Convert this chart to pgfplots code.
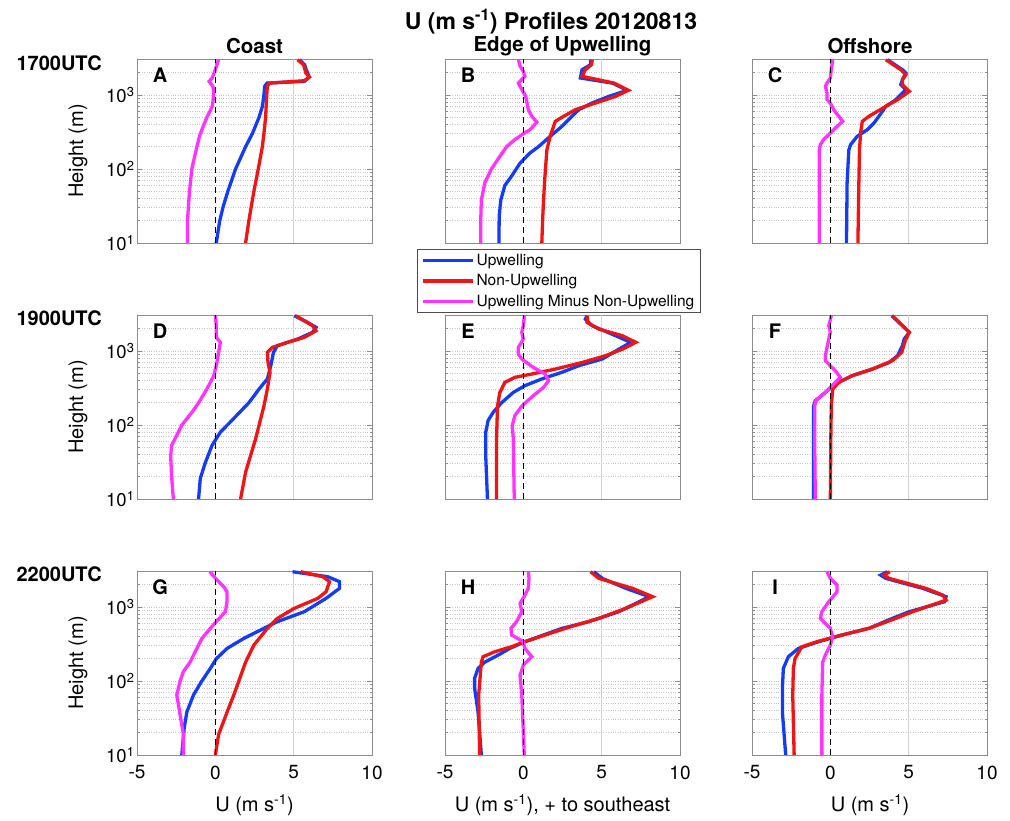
\documentclass[border=0pt]{standalone}
\usepackage{pgfplots}
\pgfplotsset{compat=1.18}
\usepackage{fontspec}
\setmainfont{TeX Gyre Heros}

\definecolor{upb}{RGB}{20,60,245}
\definecolor{nur}{RGB}{240,20,20}
\definecolor{dif}{RGB}{255,50,255}

\newcommand{\tfont}{\fontsize{20}{24}\selectfont}
\newcommand{\bfont}{\bfseries\fontsize{20}{24}\selectfont}

\pgfplotsset{
  prof/.style={
    scale only axis, width=235pt, height=184pt,
    xmin=-5, xmax=10, ymin=10, ymax=3070,
    xtick={-5,0,5,10}, xticklabels={},
    ytick={10,100,1000}, yticklabels={},
    minor ytick={20,30,40,50,60,70,80,90,200,300,400,500,600,700,800,900,2000,3000},
    ymajorgrids, yminorgrids,
    grid style={black!22, dotted, line width=0.6pt},
    axis line style={black!45, line width=0.8pt},
    tick style={black!45, line width=0.8pt},
    major tick length=5pt, minor tick length=2.5pt,
    tick align=inside, tick pos=both,
    xticklabel style={font=\fontsize{19}{22}\selectfont, yshift=-7pt},
    yticklabel style={font=\fontsize{18.5}{22}\selectfont, xshift=1pt},
  },
  up/.style={upb, line width=3.3pt},
  nu/.style={nur, line width=3.3pt},
  df/.style={dif, line width=3.3pt},
  zl/.style={black, line width=1.5pt, dash pattern=on 6pt off 4pt, forget plot},
  g5/.style={black!18, line width=0.6pt, forget plot},
  lefty/.style={yticklabels={10\textsuperscript{1},10\textsuperscript{2},10\textsuperscript{3}}},
  botx/.style={xticklabels={-5,0,5,10}},
}

\begin{document}
\begin{tikzpicture}
\useasboundingbox (0pt,0pt) rectangle (1010pt,820pt);

% ---------- row 1: 1700UTC ----------
\begin{axis}[ymode=log, prof, lefty, at={(137pt,577pt)}]
\addplot[g5] coordinates {(5,10) (5,3070)};
\addplot[up] coordinates {(0.06,10)(0.28,20)(0.5,31)(0.8,50)(1.29,100)(1.93,200)(2.36,300)(2.79,500)(3.0,700)(3.1,1000)(3.15,1310)(3.3,1450)(5.68,1530)(6.0,1750)(5.8,2200)(5.7,2570)(5.36,3000)};
\addplot[nu] coordinates {(1.93,10)(2.14,20)(2.46,50)(2.74,100)(3.0,200)(3.1,300)(3.21,500)(3.28,1000)(3.32,1310)(3.43,1450)(5.68,1560)(6.0,1750)(5.78,1980)(5.63,2570)(5.25,3000)};
\addplot[df] coordinates {(-1.78,10)(-1.78,20)(-1.65,50)(-1.5,100)(-1.18,200)(-0.96,300)(-0.54,500)(-0.2,700)(-0.1,1000)(-0.15,1310)(-0.4,1530)(-0.2,1700)(0,2200)(0.2,3000)};
\addplot[zl] coordinates {(0,10) (0,3070)};
\node[font=\bfont] at (rel axis cs:0.098,0.913) {A};
\end{axis}

\begin{axis}[ymode=log, prof, at={(445pt,577pt)},
  legend style={at={(0.484,-0.033)}, anchor=north, draw=black!70, line width=0.6pt,
    font=\fontsize{15.5}{18}\selectfont, cells={anchor=west}, row sep=3.5pt,
    inner xsep=4pt, inner ysep=3pt},
  legend image code/.code={\draw[#1] (0pt,0pt) -- (50pt,0pt);}]
\addplot[g5] coordinates {(5,10) (5,3070)};
\addplot[up] coordinates {(-1.56,10)(-1.54,23)(-1.44,38)(-1.18,60)(-0.75,80)(-0.21,120)(0.43,165)(0.96,200)(1.71,276)(2.46,377)(3.1,515)(3.54,634)(4.39,780)(5.46,960)(6.64,1160)(5.68,1450)(3.64,1700)(3.75,2200)(4.29,2570)(4.29,3000)};
\addlegendentry{Upwelling}
\addplot[nu] coordinates {(1.18,10)(1.24,23)(1.35,65)(1.5,180)(1.71,276)(1.93,377)(2.04,441)(2.57,515)(3.32,634)(4.6,780)(5.9,960)(6.7,1160)(5.79,1450)(3.75,1790)(3.96,2200)(4.35,2570)(4.4,3000)};
\addlegendentry{Non-Upwelling}
\addplot[df] coordinates {(-2.72,10)(-2.72,20)(-2.68,38)(-2.46,65)(-2.04,100)(-1.5,148)(-1.07,200)(-0.54,250)(0.06,306)(0.43,340)(0.86,430)(0.54,515)(0.32,634)(0.15,960)(-0.32,1450)(0.1,1790)(0,2090)(-0.2,2440)(-0.32,3000)};
\addlegendentry{Upwelling Minus Non-Upwelling}
\addplot[zl] coordinates {(0,10) (0,3070)};
\node[font=\bfont] at (rel axis cs:0.098,0.913) {B};
\end{axis}

\begin{axis}[ymode=log, prof, at={(752pt,577pt)}]
\addplot[g5] coordinates {(5,10) (5,3070)};
\addplot[up] coordinates {(1.03,10)(1.07,65)(1.18,180)(1.29,213)(1.71,276)(2.36,340)(2.79,420)(3.1,515)(3.54,703)(4.18,865)(4.82,1180)(4.5,1380)(4.6,1610)(4.82,1980)(4.6,2200)(3.64,3000)};
\addplot[nu] coordinates {(1.76,10)(1.82,65)(1.86,180)(1.93,306)(2.04,441)(2.46,515)(3.54,703)(4.29,865)(5.04,1120)(4.6,1380)(4.6,1610)(4.82,1880)(4.5,2200)(3.54,3000)};
\addplot[df] coordinates {(-0.71,10)(-0.71,65)(-0.71,180)(-0.64,213)(-0.43,250)(0,306)(0.43,377)(0.79,441)(0.54,515)(0.21,634)(0,780)(-0.21,865)(-0.21,1060)(-0.32,1310)(-0.21,1450)(0,1700)(0.06,2200)(0.15,3000)};
\addplot[zl] coordinates {(0,10) (0,3070)};
\node[font=\bfont] at (rel axis cs:0.098,0.913) {C};
\end{axis}

% ---------- row 2: 1900UTC ----------
\begin{axis}[ymode=log, prof, lefty, at={(137pt,321pt)}]
\addplot[g5] coordinates {(5,10) (5,3070)};
\addplot[up] coordinates {(-1.07,10)(-0.96,19)(-0.64,31)(-0.21,53)(0.32,80)(0.96,110)(2.14,200)(2.79,306)(3.32,420)(3.54,634)(3.71,960)(3.96,1180)(5.25,1450)(6.2,1790)(6.43,2090)(5.89,2440)(5.04,3000)};
\addplot[nu] coordinates {(1.61,10)(1.93,23)(2.57,65)(3.1,180)(3.32,306)(3.49,515)(3.36,703)(3.32,960)(3.64,1120)(4.6,1310)(5.68,1530)(6.43,1880)(6.2,2200)(5.14,3000)};
\addplot[df] coordinates {(-2.68,10)(-2.79,20)(-2.85,38)(-2.79,53)(-2.36,80)(-2.14,100)(-1.5,148)(-1.07,200)(-0.54,306)(-0.1,464)(0.06,634)(0.21,960)(0.32,1310)(0.06,1530)(0.06,2200)(0,3000)};
\addplot[zl] coordinates {(0,10) (0,3070)};
\node[font=\bfont] at (rel axis cs:0.098,0.913) {D};
\end{axis}

\begin{axis}[ymode=log, prof, at={(445pt,321pt)}]
\addplot[g5] coordinates {(5,10) (5,3070)};
\addplot[up] coordinates {(-2.29,10)(-2.4,38)(-2.4,80)(-2.25,115)(-1.93,148)(-1.39,200)(-0.64,276)(0.1,340)(1.18,420)(2.46,515)(3.54,634)(5.04,780)(6.1,1060)(6.86,1310)(5.89,1610)(4.39,2200)(3.96,2700)(4.07,3000)};
\addplot[nu] coordinates {(-1.71,10)(-1.71,65)(-1.65,180)(-1.5,276)(-1.18,377)(-0.54,441)(0.54,489)(2.04,570)(3.75,700)(5.25,865)(6.32,1060)(7.18,1310)(6.32,1610)(4.82,1980)(4.07,2440)(4.07,3000)};
\addplot[df] coordinates {(-0.58,10)(-0.64,65)(-0.71,98)(-0.54,134)(-0.1,180)(0.64,250)(1.29,323)(1.61,397)(1.39,489)(0.64,600)(-0.1,780)(-0.32,910)(-0.32,1120)(0,1450)(-0.1,1790)(0,2200)(0.06,3000)};
\addplot[zl] coordinates {(0,10) (0,3070)};
\node[font=\bfont] at (rel axis cs:0.098,0.913) {E};
\end{axis}

\begin{axis}[ymode=log, prof, at={(752pt,321pt)}]
\addplot[g5] coordinates {(5,10) (5,3070)};
\addplot[up] coordinates {(-1.07,10)(-1.07,180)(-0.96,213)(-0.32,276)(0.32,358)(1.39,464)(2.68,570)(3.75,700)(4.29,865)(4.6,1180)(4.71,1450)(5.04,1790)(4.6,2200)(3.92,3000)};
\addplot[nu] coordinates {(0,10)(0.03,65)(0.06,180)(0.15,306)(0.54,377)(1.39,464)(2.68,570)(3.96,740)(4.56,960)(4.71,1240)(4.82,1450)(5.04,1790)(4.6,2200)(3.96,3000)};
\addplot[df] coordinates {(-0.96,10)(-1.0,65)(-1.0,180)(-0.92,213)(-0.32,276)(0.21,358)(0.64,441)(0.32,540)(-0.32,740)(-0.32,865)(-0.21,1120)(-0.1,1450)(0,1790)(-0.1,2200)(0.06,3000)};
\addplot[zl] coordinates {(0,10) (0,3070)};
\node[font=\bfont] at (rel axis cs:0.098,0.913) {F};
\end{axis}

% ---------- row 3: 2200UTC ----------
\begin{axis}[ymode=log, prof, lefty, botx, at={(137pt,65pt)}]
\addplot[g5] coordinates {(5,10) (5,3070)};
\addplot[up] coordinates {(-2.14,10)(-1.99,23)(-1.82,38)(-1.39,65)(-0.86,100)(-0.32,148)(0.06,200)(0.75,276)(1.82,377)(3.1,515)(3.96,634)(5.68,865)(7.07,1310)(7.93,1790)(7.93,2200)(7.18,2570)(4.93,3000)};
\addplot[nu] coordinates {(0,10)(0.21,19)(0.75,38)(1.18,65)(1.5,100)(1.93,180)(2.46,306)(3.32,515)(3.96,703)(5.04,960)(6.54,1310)(7.07,1610)(7.29,2200)(6.86,2570)(5.46,3000)};
\addplot[df] coordinates {(-2.04,10)(-2.04,19)(-2.25,35)(-2.46,65)(-2.25,100)(-2.04,134)(-1.61,180)(-1.18,276)(-0.86,377)(-0.32,515)(0.06,634)(0.64,865)(0.75,1180)(0.75,1610)(0.54,1880)(0.21,2200)(-0.36,3000)};
\addplot[zl] coordinates {(0,10) (0,3070)};
\node[font=\bfont] at (rel axis cs:0.098,0.913) {G};
\end{axis}

\begin{axis}[ymode=log, prof, botx, at={(445pt,65pt)}]
\addplot[g5] coordinates {(5,10) (5,3070)};
\addplot[up] coordinates {(-2.68,10)(-2.89,38)(-3.11,80)(-3.11,109)(-2.89,148)(-2.46,180)(-1.61,224)(-0.86,276)(0.1,340)(2.46,515)(4.18,634)(6.1,865)(7.39,1180)(8.04,1380)(6.54,1790)(5.04,2440)(4.5,3000)};
\addplot[nu] coordinates {(-2.79,10)(-2.85,65)(-2.68,180)(-2.57,213)(-1.82,249)(-0.75,291)(0.1,340)(2.68,515)(4.82,703)(6.54,960)(8.25,1380)(6.96,1790)(4.82,2440)(4.29,3000)};
\addplot[df] coordinates {(0.06,10)(-0.1,65)(-0.21,120)(0,165)(0.54,213)(0.1,276)(0,340)(-0.75,419)(-0.79,515)(-0.43,634)(-0.1,865)(-0.21,1120)(0.1,1450)(0.32,1790)(0.36,2440)(0.32,3000)};
\addplot[zl] coordinates {(0,10) (0,3070)};
\node[font=\bfont] at (rel axis cs:0.098,0.913) {H};
\end{axis}

\begin{axis}[ymode=log, prof, botx, at={(752pt,65pt)}]
\addplot[g5] coordinates {(5,10) (5,3070)};
\addplot[up] coordinates {(-2.85,10)(-3.06,38)(-3.06,80)(-3.0,148)(-2.68,213)(-2.04,276)(-0.75,340)(0.75,419)(2.46,515)(3.96,703)(5.04,865)(7.29,1180)(7.39,1380)(5.89,1790)(3.54,2440)(3.21,2700)(3.64,3000)};
\addplot[nu] coordinates {(-2.31,10)(-2.4,65)(-2.36,148)(-2.25,202)(-1.82,290)(-0.86,340)(0.75,419)(2.46,515)(4.18,703)(5.25,865)(7.39,1240)(7.18,1450)(6.1,1790)(3.75,2440)(3.43,2700)(3.8,3000)};
\addplot[df] coordinates {(-0.54,10)(-0.54,65)(-0.49,180)(-0.32,224)(0,306)(0.15,397)(0,515)(-0.64,703)(-0.54,865)(-0.1,1180)(0.43,1610)(0.43,1980)(0,2440)(-0.21,3000)};
\addplot[zl] coordinates {(0,10) (0,3070)};
\node[font=\bfont] at (rel axis cs:0.098,0.913) {I};
\end{axis}

% ---------- titles and labels ----------
\node[font=\bfseries\fontsize{23}{27}\selectfont] at (551pt,798pt) {U (m s\textsuperscript{-1}) Profiles 20120813};
\node[font=\bfseries\fontsize{20.5}{24}\selectfont] at (254.5pt,774pt) {Coast};
\node[font=\bfseries\fontsize{20.5}{24}\selectfont] at (562.5pt,774pt) {Edge of Upwelling};
\node[font=\bfseries\fontsize{20.5}{24}\selectfont] at (870pt,774pt) {Offshore};
\node[font=\bfont, anchor=west] at (13pt,757pt) {1700UTC};
\node[font=\bfont, anchor=west] at (13pt,502pt) {1900UTC};
\node[font=\bfont, anchor=west] at (13pt,246pt) {2200UTC};
\node[font=\tfont, rotate=90] at (78pt,669pt) {Height (m)};
\node[font=\tfont, rotate=90] at (78pt,413pt) {Height (m)};
\node[font=\tfont, rotate=90] at (78pt,157pt) {Height (m)};
\node[font=\tfont] at (254.5pt,15pt) {U (m s\textsuperscript{-1})};
\node[font=\tfont] at (562.5pt,15pt) {U (m s\textsuperscript{-1}), + to southeast};
\node[font=\tfont] at (870pt,15pt) {U (m s\textsuperscript{-1})};
\end{tikzpicture}
\end{document}
